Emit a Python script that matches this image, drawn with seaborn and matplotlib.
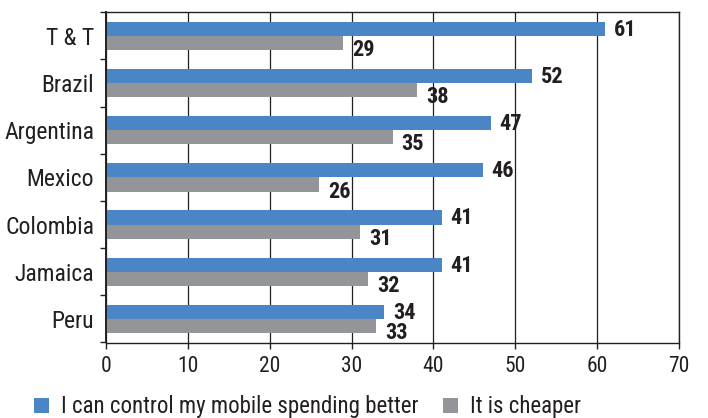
import matplotlib
matplotlib.use("Agg")
import matplotlib.pyplot as plt
import seaborn as sns
import pandas as pd
import numpy as np
from matplotlib.patches import Patch
from matplotlib.ticker import FixedLocator

countries = ["T & T", "Brazil", "Argentina", "Mexico", "Colombia", "Jamaica", "Peru"]
control = [61, 52, 47, 46, 41, 41, 34]
cheaper = [29, 38, 35, 26, 31, 32, 33]
series_names = ["I can control my mobile spending better", "It is cheaper"]
x_ticks = [0, 10, 20, 30, 40, 50, 60, 70]

sns.set_theme(style="white")
FONT = ["Roboto Condensed", "Liberation Sans", "DejaVu Sans"]
plt.rcParams["font.family"] = FONT
TXT = "#231f20"
BLUE = "#4a86c5"
GRAY = "#939598"

df = pd.DataFrame({
    "country": countries * 2,
    "value": control + cheaper,
    "series": [series_names[0]] * len(countries) + [series_names[1]] * len(countries),
})

fig = plt.figure(figsize=(7.08, 4.18), dpi=100)
ax = fig.add_axes([106 / 708, 1 - 342.5 / 418, (679 - 106) / 708, (342.5 - 12.3) / 418])

sns.barplot(data=df, y="country", x="value", hue="series", orient="h",
            palette=[BLUE, GRAY], saturation=1, width=0.6, gap=0,
            linewidth=0, ax=ax, legend=False)

ax.set_xlim(0, 70)
ax.set_ylim(6.5, -0.5)
ax.set_xticks(x_ticks)
ax.set_xticklabels([str(t) for t in x_ticks])
ax.set_xlabel("")
ax.set_ylabel("")
ax.grid(axis="x", color="#231f20", linewidth=0.9)
ax.set_axisbelow(True)
for s in ax.spines.values():
    s.set_visible(True)
    s.set_color("#231f20")
    s.set_linewidth(1.0)
ax.spines["left"].set_linewidth(1.4)

ax.yaxis.set_minor_locator(FixedLocator(np.arange(-0.5, 7, 1.0)))
ax.tick_params(axis="y", which="major", length=0, pad=8.5, labelsize=17, labelcolor=TXT)
ax.tick_params(axis="y", which="minor", left=True, length=4, width=1.0, color=TXT, direction="out")
ax.tick_params(axis="x", which="major", bottom=True, length=4, width=1.0, color=TXT,
               direction="out", pad=6, labelsize=15.5, labelcolor=TXT)

for i, (b, g) in enumerate(zip(control, cheaper)):
    ax.annotate(str(b), xy=(b, i - 0.15), xytext=(9, -1), textcoords="offset pixels",
                ha="left", va="center", fontsize=16, fontweight="bold", color=TXT)
    ax.annotate(str(g), xy=(g, i + 0.3), xytext=(9, 0), textcoords="offset pixels",
                ha="left", va="center", fontsize=16, fontweight="bold", color=TXT)

handles = [Patch(facecolor=BLUE, edgecolor="none"), Patch(facecolor=GRAY, edgecolor="none")]
fig.legend(handles, series_names, loc="center left", bbox_to_anchor=(25 / 708, 1 - 407 / 418),
           ncol=2, frameon=False, fontsize=16.5, handlelength=0.65, handleheight=0.65,
           handletextpad=0.5, columnspacing=1.1, labelcolor=TXT, borderaxespad=0)

fig.savefig("out.png", dpi=100)
